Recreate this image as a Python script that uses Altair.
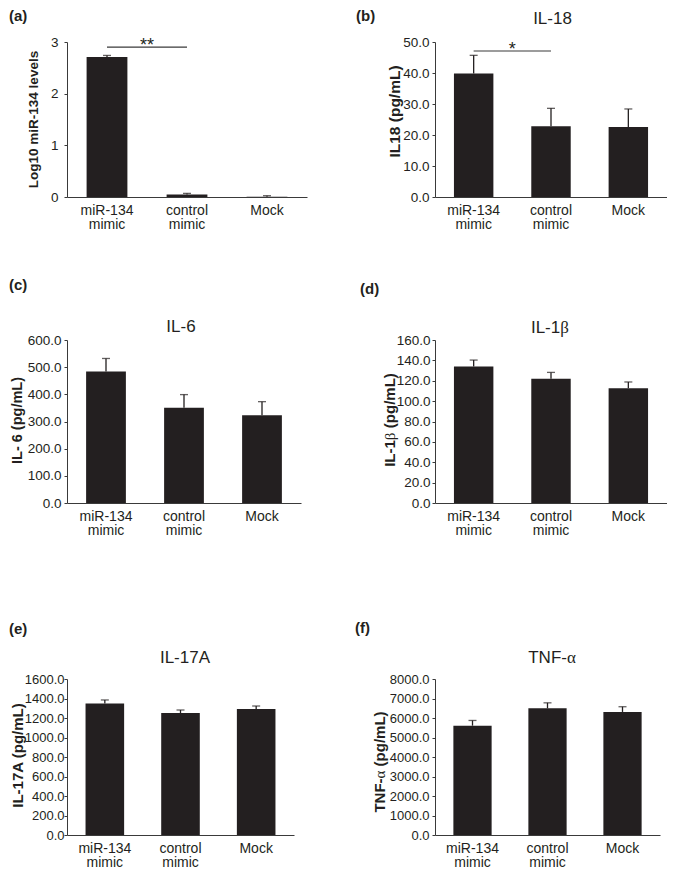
import altair as alt
import pandas as pd

# ---------------- data ----------------
groups = ["miR-134 mimic", "control mimic", "Mock"]

mir134_levels = [2.71, 0.05, 0.005]
mir134_err = [0.03, 0.02, 0.02]
il18_vals = [39.8, 22.8, 22.6]
il18_err = [5.9, 5.8, 5.8]
il6_vals = [484, 351, 323]
il6_err = [48, 48, 50]
il1b_vals = [134, 122, 112.7]
il1b_err = [6.3, 6.2, 6.1]
il17a_vals = [1350, 1251, 1292]
il17a_err = [35, 31, 31]
tnfa_vals = [5607, 6494, 6310]
tnfa_err = [267, 284, 268]

panel_letters = ["(a)", "(b)", "(c)", "(d)", "(e)", "(f)"]
# titles split into (text, is_greek) pieces so Greek letters use a serif face
panel_titles = [[], [("IL-18", False)], [("IL-6", False)],
                [("IL-1", False), ("β", True)], [("IL-17A", False)],
                [("TNF-", False), ("α", True)]]
y_titles = [[("Log10 miR-134 levels", False)], [("IL18 (pg/mL)", False)],
            [("IL- 6 (pg/mL)", False)],
            [("IL-1", False), ("β", True), (" (pg/mL)", False)],
            [("IL-17A (pg/mL)", False)],
            [("TNF-", False), ("α", True), (" (pg/mL)", False)]]
y_ticks = [
    [0, 1, 2, 3],
    [0, 10, 20, 30, 40, 50],
    [0, 100, 200, 300, 400, 500, 600],
    [0, 20, 40, 60, 80, 100, 120, 140, 160],
    [0, 200, 400, 600, 800, 1000, 1200, 1400, 1600],
    [0, 1000, 2000, 3000, 4000, 5000, 6000, 7000, 8000],
]
y_formats = ["d", ".1f", ".1f", ".1f", ".1f", ".1f"]

# significance brackets: (from, to, y, text)
sig_a = ["miR-134 mimic", "control mimic", 2.9, "**"]
sig_b = ["miR-134 mimic", "control mimic", 47.1, "*"]

INK = "#231f20"
AXIS = "#3a3a3a"
FONT = "Liberation Sans"
SERIF = "Liberation Serif"

# approximate advance widths (em) used to lay out the mixed-font pieces
BOLD_W = {"I": .278, "L": .611, "-": .333, "1": .556, "T": .611, "N": .722,
          "F": .611, " ": .278, "(": .333, "p": .611, "g": .611, "/": .278,
          "m": .889, ")": .333}
REG_W = {"I": .278, "L": .556, "-": .333, "1": .556, "T": .611, "N": .722,
         "F": .611, " ": .278}
GREEK_W = 0.52


def piece_width(text, greek, size, bold):
    if greek:
        return GREEK_W * size
    table = BOLD_W if bold else REG_W
    return sum(table.get(c, 0.556) for c in text) * size


def text_layer(text, x, y, size, bold, greek, align, baseline, angle=0):
    return alt.Chart(pd.DataFrame({"t": [text]})).mark_text(
        font=SERIF if greek else FONT, fontSize=size,
        fontWeight="normal" if (greek or not bold) else "bold",
        color=INK, align=align, baseline=baseline, angle=angle).encode(
        text="t:N", x=alt.value(x), y=alt.value(y))


def panel(vals, errs, idx, w, h, L, T, br, letter_xy, title_xy, ytitle_xyz,
          lab_pad, lab_size=13.5, sig=None):
    df = pd.DataFrame({"group": groups, "value": vals,
                       "top": [v + e for v, e in zip(vals, errs)]})
    ticks = y_ticks[idx]
    yscale = alt.Scale(domain=[ticks[0], ticks[-1]], nice=False, zero=True)
    ypieces = y_titles[idx]
    single = len(ypieces) == 1
    yaxis_kw = dict(values=ticks, format=y_formats[idx], grid=False,
                    tickSize=3, labelPadding=lab_pad, labelFontSize=lab_size)
    if single:
        yaxis_kw.update(title=ypieces[0][0], titleX=ytitle_xyz[0],
                        titleY=ytitle_xyz[1], titleAngle=270,
                        titleAlign="center", titleBaseline="middle",
                        titleFontSize=ytitle_xyz[2], titleFontWeight="bold")
    else:
        yaxis_kw.update(title=None)
    yaxis = alt.Axis(**yaxis_kw)
    xaxis = alt.Axis(title=None, labelAngle=0, ticks=False, labelPadding=6,
                     labelFontSize=14, labelLineHeight=14.5,
                     labelExpr="split(datum.label, ' ')")
    xscale = alt.Scale(paddingInner=0.49, paddingOuter=0.245)

    def xenc(field="group"):
        return alt.X(f"{field}:N", sort=groups, scale=xscale, axis=xaxis)

    base = alt.Chart(df)
    bars = base.mark_bar(color=INK).encode(
        x=xenc(), y=alt.Y("value:Q", scale=yscale, axis=yaxis))
    err = base.mark_rule(color=INK, strokeWidth=1.3).encode(
        x=xenc(), y=alt.Y("value:Q", scale=yscale, axis=yaxis), y2="top:Q")
    cap = base.mark_tick(color=INK, orient="horizontal", size=8, thickness=1.3).encode(
        x=xenc(), y=alt.Y("top:Q", scale=yscale, axis=yaxis))
    layers = [bars, err, cap]

    layers.append(text_layer(panel_letters[idx], letter_xy[0], letter_xy[1],
                             15, True, False, "left", "alphabetic"))

    # panel title (horizontal), pieces laid out left to right around centre
    tp = panel_titles[idx]
    if tp:
        widths = [piece_width(t, g, 17, False) for t, g in tp]
        x = title_xy[0] - sum(widths) / 2
        for (t, g), wd in zip(tp, widths):
            layers.append(text_layer(t, x, title_xy[1], 17, False, g,
                                     "left", "alphabetic"))
            x += wd

    # multi-font y title, rotated, pieces laid out bottom to top
    if not single:
        size = ytitle_xyz[2]
        widths = [piece_width(t, g, size, True) for t, g in ypieces]
        y = ytitle_xyz[1] + sum(widths) / 2
        bx = ytitle_xyz[0] + 0.36 * size
        for (t, g), wd in zip(ypieces, widths):
            lead = len(t) - len(t.lstrip(" "))
            ystart = y - lead * BOLD_W[" "] * size
            layers.append(text_layer(t.lstrip(" "), bx, ystart, size, True, g,
                                     "left", "alphabetic", angle=270))
            y -= wd

    if sig is not None:
        sdf = pd.DataFrame({"group": [sig[0]], "group2": [sig[1]],
                            "y": [sig[2]], "t": [sig[3]]})
        srule = alt.Chart(sdf).mark_rule(color=AXIS, strokeWidth=1.2).encode(
            x=xenc(), x2=alt.X2("group2:N"),
            y=alt.Y("y:Q", scale=yscale, axis=yaxis))
        stext = alt.Chart(sdf).mark_text(
            font=FONT, fontSize=18, color=INK, align="center",
            baseline="alphabetic", dx=w / 6, dy=4).encode(
            x=xenc(), y=alt.Y("y:Q", scale=yscale, axis=yaxis), text="t:N")
        layers += [srule, stext]

    # invisible extent markers that fix the panel's layout box
    d = pd.DataFrame({"k": [0]})
    tl = alt.Chart(d).mark_rule(color="white", strokeWidth=1).encode(
        x=alt.value(-L), x2=alt.value(-L + 1), y=alt.value(-T))
    layers.append(tl)
    if br is not None:
        brm = alt.Chart(d).mark_rule(color="white", strokeWidth=1).encode(
            x=alt.value(br[0] - 1), x2=alt.value(br[0]), y=alt.value(br[1]))
        layers.append(brm)

    return alt.layer(*layers).properties(width=w, height=h)


pa = panel(mir134_levels, mir134_err, 0, 240, 155, 58, 33, (248, 200),
           (-58, -21), None, (-34, 77, 13.5), 6, sig=sig_a)
pb = panel(il18_vals, il18_err, 1, 232, 155, 118, 33, None,
           (-79, -21), (117.5, -18), (-41, 69, 15.5), 3, sig=sig_b)
pc = panel(il6_vals, il6_err, 2, 234, 163, 58, 96, (248, 205),
           (-58, -50), (114, -8), (-50, 80, 14.5), 3)
pd_ = panel(il1b_vals, il1b_err, 3, 232, 163, 118, 96, None,
            (-75, -46), (115, -7), (-45, 80, 15), 2)
pe = panel(il17a_vals, il17a_err, 4, 227, 156, 58, 132, (248, 150),
           (-58, -45), (117, -16), (-50, 76, 15), 0, lab_size=13)
pf = panel(tnfa_vals, tnfa_err, 5, 225, 156, 118, 132, None,
           (-80, -46), (117, -16), (-55, 83, 15), 3, lab_size=13)

chart = alt.concat(pa, pb, pc, pd_, pe, pf, columns=2, spacing=0,
                   bounds="full", align="each").properties(
    padding=0, background="white"
).configure(font=FONT).configure_view(stroke=None).configure_axis(
    domainColor=AXIS, tickColor=AXIS, labelColor=INK, titleColor=INK,
    labelFont=FONT, titleFont=FONT, domainWidth=1, tickWidth=1
)

chart.save("out.html", embed_options={"renderer": "svg", "actions": False})
